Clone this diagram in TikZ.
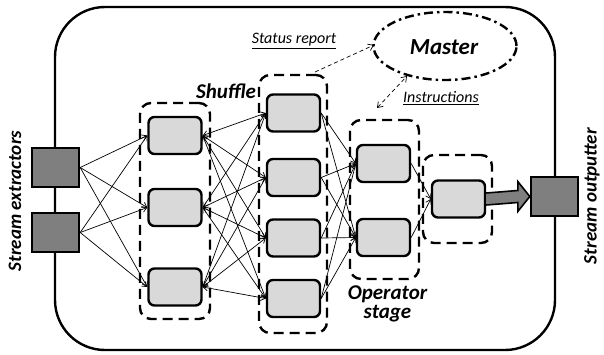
\documentclass[tikz,border=0pt]{standalone}
\usepackage{fontspec}
\setmainfont{Carlito}
\usetikzlibrary{arrows.meta,calc,shapes.geometric}

\definecolor{boxgray}{HTML}{D9D9D9}
\definecolor{darkgray}{HTML}{7F7F7F}

\tikzset{
  worker/.style={draw, line width=2.4pt, fill=boxgray, rounded corners=6pt,
    minimum width=53pt, minimum height=37pt, inner sep=0pt},
  ioport/.style={draw, line width=2.4pt, fill=darkgray,
    minimum width=47pt, minimum height=39pt, inner sep=0pt},
  group/.style={draw, line width=2.4pt, rounded corners=11pt,
    dash pattern=on 10pt off 6pt, inner sep=0pt},
  flow/.style={line width=0.7pt, -{Straight Barb[length=4.5pt,width=6pt]}},
  biflow/.style={line width=0.7pt, {Straight Barb[length=4.5pt,width=6pt]}-{Straight Barb[length=4.5pt,width=6pt]}},
  ctrl/.style={line width=0.7pt, dash pattern=on 4pt off 3pt},
  heading/.style={font=\bfseries\itshape, inner sep=0pt},
  note/.style={font=\itshape\fontsize{16}{17}\selectfont, inner sep=0pt},
}

\begin{document}
\begin{tikzpicture}[x=1pt, y=-1pt]
\useasboundingbox (0,0) rectangle (604,354);

% runtime container
\draw[line width=2.4pt, rounded corners=50pt] (55,7) rectangle (555,350);

% dashed stage groups
\node[group, minimum width=70pt, minimum height=216pt] (g1) at (175,211) {};
\node[group, minimum width=68pt, minimum height=258pt] (g2) at (293,204) {};
\node[group, minimum width=69pt, minimum height=159pt] (g3) at (384.5,199.5) {};
\node[group, minimum width=69pt, minimum height=88pt] (g4) at (457.5,199) {};

% stream extractors and outputter
\node[ioport] (e1) at (55.5,167.5) {};
\node[ioport] (e2) at (55.5,232.5) {};
\node[ioport] (out) at (554.5,196.5) {};

% first stage
\node[worker] (a1) at (175,135.5) {};
\node[worker] (a2) at (175,207.5) {};
\node[worker] (a3) at (175,287) {};

% second stage
\node[worker] (b1) at (293.5,113) {};
\node[worker] (b2) at (293.5,177.5) {};
\node[worker] (b3) at (293.5,238) {};
\node[worker] (b4) at (293.5,298.5) {};

% operator stage
\node[worker] (c1) at (383.5,163.5) {};
\node[worker] (c2) at (383.5,237.5) {};

% final stage
\node[worker] (d1) at (458.5,199) {};

% extractors feed every first-stage worker
\foreach \s in {e1,e2}
  \foreach \t in {a1,a2,a3}
    \draw[flow] (\s.east) -- (\t.west);

% shuffle between the first and second stages
\foreach \s in {a1,a2,a3}
  \foreach \t in {b1,b2,b3,b4}
    \draw[biflow] (\s.east) -- (\t.west);

% second stage into the operator stage
\foreach \s in {b1,b2,b3,b4}
  \foreach \t in {c1,c2}
    \draw[flow] (\s.east) -- (\t.west);

% operator stage into the final worker
\foreach \s in {c1,c2}
  \draw[flow] (\s.east) -- (d1.west);

% wide arrow to the outputter
\draw[line width=1.6pt, fill=darkgray, line join=miter]
  ($(d1.east)+(0,-6)$) -- ($(out.west)+(-12,-6)$) -- ($(out.west)+(-12,-15)$)
  -- (out.west) -- ($(out.west)+(-12,15)$) -- ($(out.west)+(-12,6)$)
  -- ($(d1.east)+(0,6)$);

% master
\node[ellipse, draw, line width=2.4pt, dash pattern=on 9pt off 4pt on 2.5pt off 4pt,
  minimum width=143pt, minimum height=68pt, inner sep=0pt] (m) at (445,46) {};
\node[heading, font=\bfseries\itshape\fontsize{23}{25}\selectfont] (mt) at (444,47) {Master};

% control messages
\coordinate (srfrom) at (315,72);
\coordinate (srto) at (374,45);
\draw[ctrl, -{Straight Barb[length=5pt,width=7pt]}] (srfrom) -- (srto);
\coordinate (infrom) at (377,108);
\coordinate (into) at (407,76);
\draw[ctrl, {Straight Barb[length=5pt,width=7pt]}-{Straight Barb[length=5pt,width=7pt]}] (infrom) -- (into);

\node[note] (sr) at (294,41) {\underline{Status report}};
\node[note] (ins) at (441,98) {\underline{Instructions}};

% labels
\node[heading, font=\bfseries\itshape\fontsize{21}{22}\selectfont] (shuf) at (226,91) {Shuffle};
\node[heading, font=\bfseries\itshape\fontsize{21}{19}\selectfont, align=center] (ops) at (387.5,304) {Operator\\stage};
\node[heading, font=\bfseries\itshape\fontsize{19}{20}\selectfont, rotate=90] (ext) at (15,201) {Stream extractors};
\node[heading, font=\bfseries\itshape\fontsize{19}{20}\selectfont, rotate=90] (outl) at (592,196) {Stream outputter};
\end{tikzpicture}
\end{document}
